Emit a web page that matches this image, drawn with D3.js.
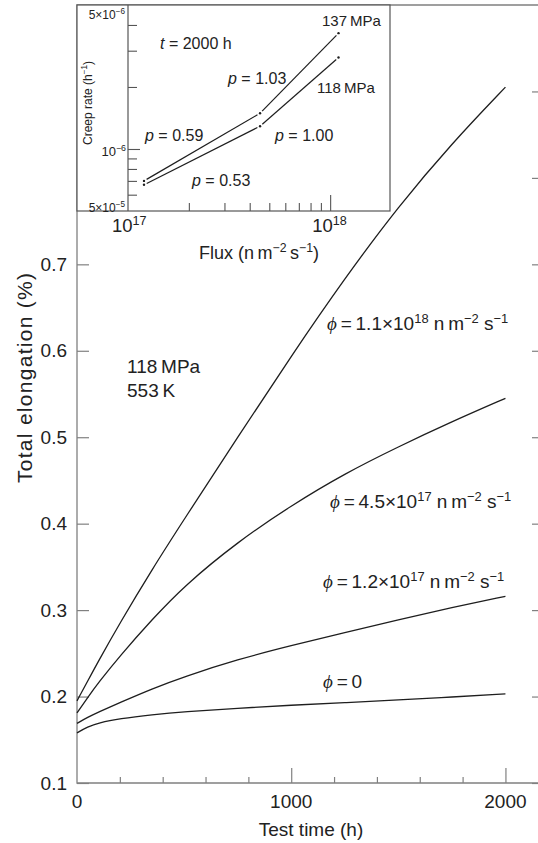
<!DOCTYPE html>
<html><head><meta charset="utf-8">
<script src="https://cdn.jsdelivr.net/npm/d3@7/dist/d3.min.js"></script>
<style>
html,body{margin:0;padding:0;background:#fff;}
svg{display:block;font-family:"Liberation Sans",Arial,Helvetica,sans-serif;}
</style></head>
<body>
<svg id="chart" width="538" height="843"></svg>
<script>
// ---------- data ----------
const times    = [0, 50, 100, 200, 350, 500, 750, 1000, 1250, 1500, 1750, 2000];
const phi11e18 = [0.195, 0.218, 0.241, 0.285, 0.347, 0.405, 0.500, 0.594, 0.684, 0.767, 0.840, 0.905];
const phi45e17 = [0.181, 0.199, 0.216, 0.247, 0.289, 0.328, 0.379, 0.421, 0.458, 0.489, 0.518, 0.545];
const phi12e17 = [0.169, 0.176, 0.182, 0.193, 0.209, 0.223, 0.243, 0.259, 0.274, 0.289, 0.303, 0.316];
const phi0     = [0.158, 0.165, 0.1695, 0.1745, 0.179, 0.1825, 0.1865, 0.190, 0.193, 0.196, 0.1995, 0.203];
const yTicks = [0.1, 0.2, 0.3, 0.4, 0.5, 0.6, 0.7, 0.8, 0.9];
const yTickLabels = ["0.1", "0.2", "0.3", "0.4", "0.5", "0.6", "0.7"];
const xTicks = [0, 200, 400, 600, 800, 1000, 1200, 1400, 1600, 1800, 2000];
const xTickLabels = ["0", "1000", "2000"];

// inset
const insetFlux = [1.2e17, 4.5e17, 1.1e18];
const rate137 = [7.0e-7, 1.49e-6, 3.65e-6];
const rate118 = [6.7e-7, 1.29e-6, 2.78e-6];
const insetYTicks = [5e-7, 6e-7, 7e-7, 8e-7, 9e-7, 1e-6, 2e-6, 3e-6, 4e-6, 5e-6];
const insetXTicks = [2e17, 3e17, 4e17, 5e17, 6e17, 7e17, 8e17, 9e17, 1e18];

// ---------- drawing ----------
const svg = d3.select("#chart");
const axisColor = "#808080";
const lineColor = "#1e1e1e";

const x = d3.scaleLinear().domain([0, 2180]).range([77, 544]);
const y = d3.scaleLinear().domain([0.1, 1.0]).range([783, 5]);

// frame
svg.append("path")
  .attr("d", `M${x(0)},${y(1.0)}H${x(2180)}V${y(0.1)}H${x(0)}Z`)
  .attr("fill", "none").attr("stroke", axisColor).attr("stroke-width", 1.3);

const styleTicks = g => { g.select(".domain").remove(); g.selectAll("line").attr("stroke", axisColor).attr("stroke-width", 1.2); };
svg.append("g").attr("transform", `translate(${x(0)},0)`)
  .call(d3.axisRight(y).tickValues(yTicks).tickSize(12).tickFormat("")).call(styleTicks);
svg.append("g").attr("transform", `translate(${x(2180)},0)`)
  .call(d3.axisLeft(y).tickValues(yTicks).tickSize(12).tickFormat("")).call(styleTicks);
svg.append("g").attr("transform", `translate(0,${y(0.1)})`)
  .call(d3.axisTop(x).tickValues(xTicks.filter(d => d % 1000 !== 0)).tickSize(6).tickFormat("")).call(styleTicks);
svg.append("g").attr("transform", `translate(0,${y(0.1)})`)
  .call(d3.axisTop(x).tickValues(xTicks.filter(d => d % 1000 === 0 && d > 0)).tickSize(15).tickFormat("")).call(styleTicks);

// tick labels
svg.append("g").selectAll("text").data(yTickLabels).join("text")
  .attr("x", 67).attr("y", d => y(+d) + 6.5)
  .attr("text-anchor", "end").attr("font-size", 19).attr("fill", "#222").text(d => d);
svg.append("g").selectAll("text").data(xTickLabels).join("text")
  .attr("x", d => x(+d)).attr("y", 808)
  .attr("text-anchor", "middle").attr("font-size", 19).attr("fill", "#222").text(d => d);

// axis titles
svg.append("text").attr("x", 311).attr("y", 836).attr("text-anchor", "middle")
  .attr("font-size", 19).attr("fill", "#222").text("Test time (h)");
svg.append("text").attr("transform", "translate(32,378) rotate(-90)").attr("text-anchor", "middle")
  .attr("font-size", 21).attr("fill", "#222").attr("textLength", 210).attr("lengthAdjust", "spacing")
  .text("Total elongation (%)");

// curves
const series = [phi11e18, phi45e17, phi12e17, phi0];
const line = d3.line().x((d, i) => x(times[i])).y(d => y(d)).curve(d3.curveBasis);
svg.append("g").selectAll("path").data(series).join("path")
  .attr("d", line).attr("fill", "none").attr("stroke", lineColor).attr("stroke-width", 1.3);

// rich text helper
function rich(sel, xx, yy, parts, size, anchor) {
  const t = sel.append("text").attr("x", xx).attr("y", yy).attr("font-size", size)
    .attr("fill", "#222").attr("text-anchor", anchor || "start");
  let up = false;
  parts.forEach(p => {
    const ts = t.append("tspan").text(p.t);
    if (p.it) ts.attr("font-style", "italic");
    if (p.serif) ts.attr("font-family", "'Liberation Serif','DejaVu Serif',serif");
    if (p.sup && !up) { ts.attr("font-size", size * 0.68).attr("dy", -size * 0.38); up = true; }
    else if (p.sup && up) { ts.attr("font-size", size * 0.68); }
    else if (!p.sup && up) { ts.attr("dy", size * 0.38); up = false; }
  });
  return t;
}

// main annotations
svg.append("text").attr("x", 127).attr("y", 373).attr("font-size", 19).attr("fill", "#222").text("118\u2009MPa");
svg.append("text").attr("x", 127).attr("y", 397).attr("font-size", 19).attr("fill", "#222").text("553\u2009K");

const phiLabel = (xx, yy, mant, exp) => rich(svg, xx, yy, [
  {t: "\u03D5", it: true, serif: true}, {t: "\u2009=\u2009" + mant + "\u00D710"}, {t: exp, sup: true},
  {t: " n\u2009m"}, {t: "\u22122", sup: true}, {t: " s"}, {t: "\u22121", sup: true}], 19);
phiLabel(327, 330, "1.1", "18");
phiLabel(330, 508, "4.5", "17");
phiLabel(323, 588, "1.2", "17");
rich(svg, 323, 688, [{t: "\u03D5", it: true, serif: true}, {t: "\u2009=\u20090"}], 19);

// ---------- inset ----------
const inset = svg.append("g");
inset.append("rect").attr("x", 77).attr("y", 5).attr("width", 313).attr("height", 206)
  .attr("fill", "#fff").attr("stroke", "#555").attr("stroke-width", 1.2);

const ix = d3.scaleLog().domain([1e17, 2e18]).range([128, 391]);
const iy = d3.scaleLog().domain([5e-7, 5e-6]).range([211, 5]);

inset.append("line").attr("x1", ix(1e17)).attr("x2", ix(1e17)).attr("y1", iy(5e-6)).attr("y2", iy(5e-7))
  .attr("stroke", "#555").attr("stroke-width", 1.2);

inset.append("g").attr("transform", `translate(${ix(1e17)},0)`)
  .call(d3.axisRight(iy).tickValues(insetYTicks.filter(d => d !== 5e-7 && d !== 5e-6)).tickSize(9).tickFormat(""))
  .call(g => { g.select(".domain").remove(); g.selectAll("line").attr("stroke", "#555").attr("stroke-width", 1.1)
    .attr("x2", d => d === 1e-6 ? 12 : 9); });
inset.append("g").attr("transform", `translate(0,${iy(5e-7)})`)
  .call(d3.axisTop(ix).tickValues(insetXTicks).tickSize(8).tickFormat(""))
  .call(g => { g.select(".domain").remove(); g.selectAll("line").attr("stroke", "#555").attr("stroke-width", 1.1)
    .attr("y2", d => d === 1e18 ? -16 : -8); });

// inset y labels
rich(inset, 125, 19, [{t: "5\u00D710"}, {t: "\u22126", sup: true}], 12, "end");
rich(inset, 126, 156, [{t: "10"}, {t: "\u22126", sup: true}], 13, "end");
rich(inset, 125, 212, [{t: "5\u00D710"}, {t: "\u22125", sup: true}], 12, "end");
rich(inset, 0, 0, [{t: "Creep rate (h"}, {t: "\u22121", sup: true}, {t: ")"}], 12, "middle")
  .attr("x", null).attr("y", null).attr("transform", "translate(92,103) rotate(-90)");

// inset x labels (below box)
rich(svg, ix(1e17) - 16, 232, [{t: "10"}, {t: "17", sup: true}], 18.5);
rich(svg, ix(1e18) - 18, 232, [{t: "10"}, {t: "18", sup: true}], 18.5);
rich(svg, 259, 259, [{t: "Flux (n\u2009m"}, {t: "\u22122", sup: true}, {t: "\u2009s"}, {t: "\u22121", sup: true}, {t: ")"}], 18, "middle");

// inset lines: segments with small gaps + point marks
[rate137, rate118].forEach(rates => {
  for (let i = 0; i < rates.length - 1; i++) {
    const x1 = ix(insetFlux[i]), y1 = iy(rates[i]), x2 = ix(insetFlux[i + 1]), y2 = iy(rates[i + 1]);
    const L = Math.hypot(x2 - x1, y2 - y1), ux = (x2 - x1) / L, uy = (y2 - y1) / L;
    inset.append("line").attr("x1", x1 + ux * 3).attr("y1", y1 + uy * 3)
      .attr("x2", x2 - ux * 3).attr("y2", y2 - uy * 3)
      .attr("stroke", lineColor).attr("stroke-width", 1.2);
  }
  inset.append("g").selectAll("circle").data(rates).join("circle")
    .attr("cx", (d, i) => ix(insetFlux[i])).attr("cy", d => iy(d)).attr("r", 1.2).attr("fill", lineColor);
});

// inset annotations
rich(inset, 160, 49, [{t: "t", it: true}, {t: " = 2000 h"}], 16);
inset.append("text").attr("x", 322).attr("y", 26).attr("font-size", 15).attr("fill", "#222").text("137\u2009MPa");
inset.append("text").attr("x", 317).attr("y", 93).attr("font-size", 15).attr("fill", "#222").text("118\u2009MPa");
const pLab = (xx, yy, v) => rich(inset, xx, yy, [{t: "p", it: true}, {t: " = " + v}], 16);
pLab(228, 84, "1.03");
pLab(145, 141, "0.59");
pLab(275, 141, "1.00");
pLab(192, 186, "0.53");
</script>
</body></html>
